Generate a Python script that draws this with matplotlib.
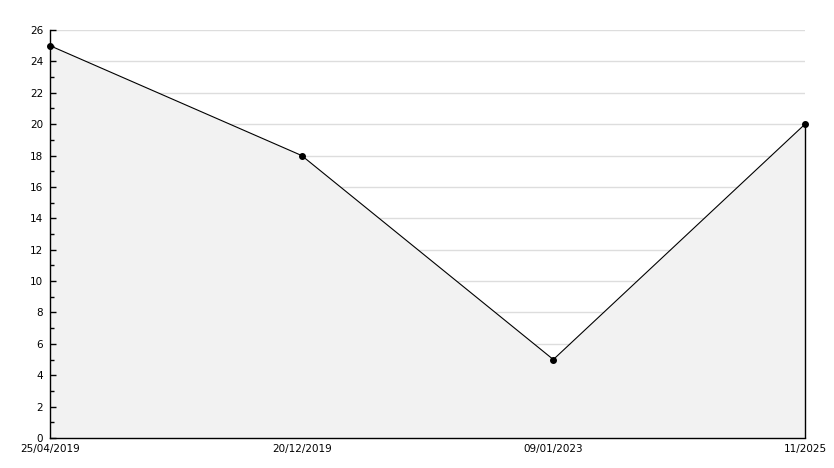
import numpy as np
import matplotlib
matplotlib.use("Agg")
import matplotlib.pyplot as plt
from matplotlib.ticker import MultipleLocator

dates = ["25/04/2019", "20/12/2019", "09/01/2023", "11/2025"]
values = [25, 18, 5, 20]

x = np.arange(len(values))

fig = plt.figure(figsize=(8.34, 4.68), dpi=100)
ax = fig.add_axes([50 / 834, 1 - 438 / 468, 755 / 834, 408 / 468])

ax.set_xlim(0, len(values) - 1)
ax.set_ylim(0, 26)

# grid drawn by hand so it sits under the fill while ticks stay on top
for yv in range(2, 27, 2):
    ax.axhline(yv, color="#dddddd", linewidth=1, zorder=1)

ax.fill_between(x, values, 0, color="#f2f2f2", zorder=2, linewidth=0)
ax.plot(x, values, color="black", linewidth=0.8, marker="o", markersize=4,
        zorder=3, clip_on=False)
ax.vlines(x[-1], 0, values[-1], color="black", linewidth=1, zorder=3, clip_on=False)
ax.set_axisbelow(False)

ax.yaxis.set_major_locator(MultipleLocator(2))
ax.yaxis.set_minor_locator(MultipleLocator(1))

ax.set_xticks(x)
ax.set_xticklabels(dates)
ax.tick_params(axis="x", length=0, pad=4, labelsize=7.5)
ax.tick_params(axis="y", which="major", direction="in", length=4.5, width=1, pad=5, labelsize=7.5)
ax.tick_params(axis="y", which="minor", direction="in", length=3, width=1)

for side in ["top", "right"]:
    ax.spines[side].set_visible(False)
for side in ["left", "bottom"]:
    ax.spines[side].set_linewidth(1)

fig.savefig("out.png", dpi=100)
